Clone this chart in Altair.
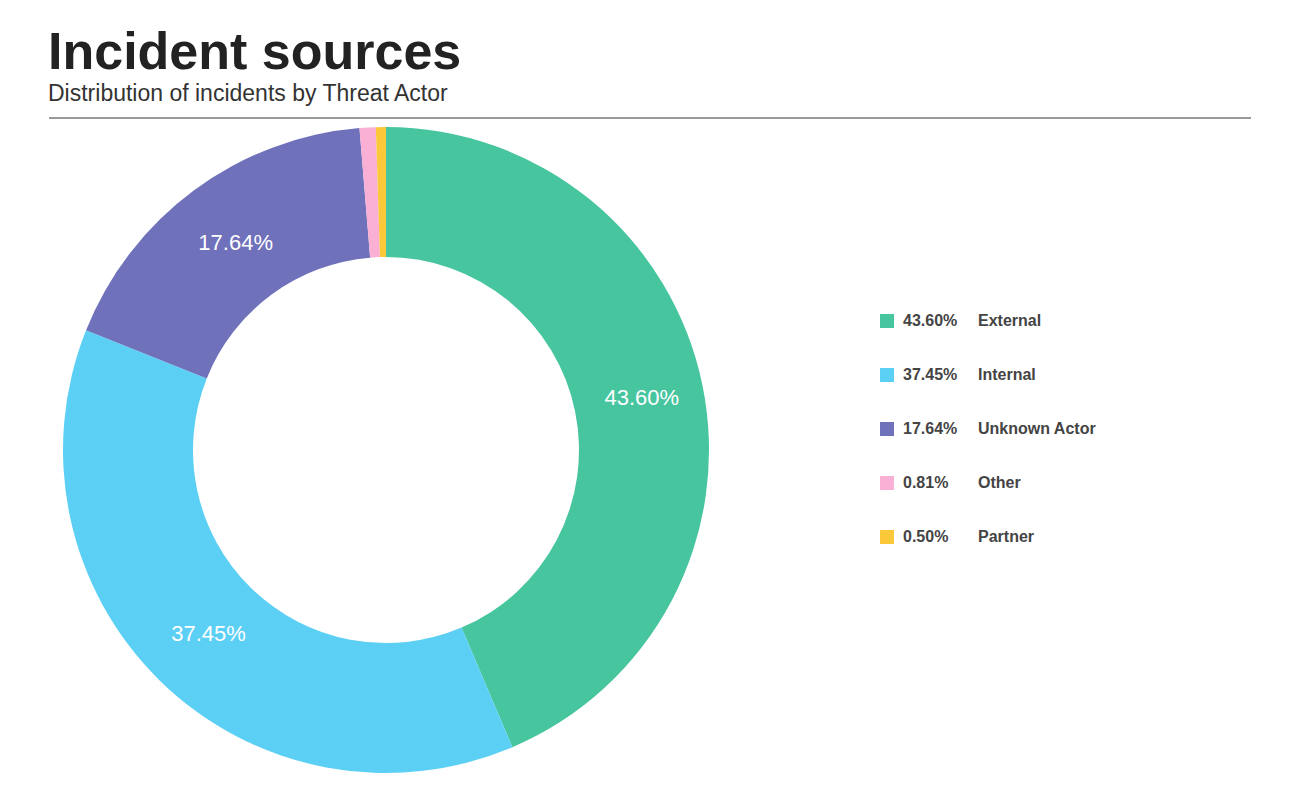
import altair as alt
import pandas as pd

# threat actor shares (percent), clockwise from 12 o'clock
names = ["External", "Internal", "Unknown Actor", "Other", "Partner"]
values = [43.60, 37.45, 17.64, 0.81, 0.50]
colors = ["#47C59F", "#5CCFF5", "#6F71BA", "#F9B0D4", "#FBC83A"]

df = pd.DataFrame({"name": names, "value": values, "idx": range(len(names))})
df["pct"] = df["value"].map(lambda v: f"{v:.2f}%")
df["label"] = df.apply(lambda r: r["pct"] if r["value"] > 5 else "", axis=1)

FONT = "Liberation Sans"
cx, cy = 337, 330

color = alt.Color("name:N", scale=alt.Scale(domain=names, range=colors), legend=None)
order = alt.Order("idx:Q", sort="ascending")
theta = alt.Theta("value:Q", stack=True)

base = alt.Chart(df)

donut = base.mark_arc(outerRadius=323, innerRadius=193).encode(
    theta=theta, color=color, order=order,
    x=alt.value(cx), y=alt.value(cy),
)

slice_labels = base.mark_text(radius=258, dx=3, font=FONT, fontSize=22, color="white").encode(
    theta=theta, order=order, text="label:N",
    x=alt.value(cx), y=alt.value(cy),
)

rule = base.mark_rule(color="#9a9a9a", strokeWidth=2).encode(
    x=alt.value(0), x2=alt.value(1202), y=alt.value(-2)
)

ly = alt.Y("name:N", sort=names, axis=None,
           scale=alt.Scale(type="point", padding=0, range=[201, 417]))

swatches = base.mark_square(size=196, opacity=1).encode(
    x=alt.value(838), y=ly, color=color
)
pct_text = base.mark_text(align="left", font=FONT, fontSize=16, fontWeight="bold", color="#444").encode(
    x=alt.value(854), y=ly, text="pct:N"
)
name_text = base.mark_text(align="left", font=FONT, fontSize=16, fontWeight="bold", color="#444").encode(
    x=alt.value(929), y=ly, text="name:N"
)

chart = alt.layer(donut, slice_labels, rule, swatches, pct_text, name_text).properties(
    width=1236,
    height=662,
    padding={"left": 41, "top": 112, "right": 0, "bottom": 0},
    autosize=alt.AutoSizeParams(type="none"),
    title=alt.TitleParams(
        "Incident sources",
        subtitle="Distribution of incidents by Threat Actor",
        anchor="start",
        font=FONT, fontSize=52, fontWeight="bold", color="#222",
        subtitleFont=FONT, subtitleFontSize=23, subtitleColor="#333",
        subtitlePadding=3, offset=10,
    ),
).configure_view(stroke=None)

chart.save("out.html", embed_options={"renderer": "svg", "actions": False})
